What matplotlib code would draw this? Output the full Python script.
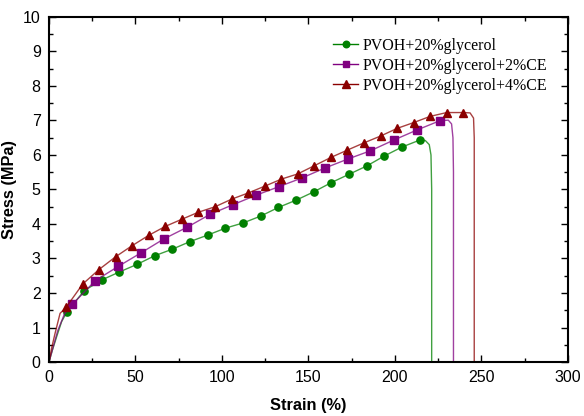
import numpy as np
import matplotlib
matplotlib.use('Agg')
import matplotlib.pyplot as plt
from matplotlib.lines import Line2D
from matplotlib.ticker import MultipleLocator

# marker points (strain %, stress MPa)
green_x = [10.2, 20.4, 30.6, 40.7, 50.9, 61.1, 71.3, 81.5, 91.8, 102.0, 112.2,
           122.4, 132.6, 142.8, 153.0, 163.2, 173.4, 183.6, 193.8, 204.0, 214.2]
green_y = [1.44, 2.07, 2.38, 2.61, 2.83, 3.08, 3.27, 3.49, 3.68, 3.88, 4.03,
           4.23, 4.48, 4.69, 4.93, 5.20, 5.44, 5.68, 5.97, 6.23, 6.43]

purple_x = [13.5, 26.8, 40.0, 53.4, 66.5, 80.0, 93.1, 106.4, 119.5, 132.8,
            146.0, 159.4, 172.6, 185.7, 199.2, 212.5, 225.8]
purple_y = [1.67, 2.36, 2.77, 3.17, 3.57, 3.91, 4.28, 4.56, 4.83, 5.08,
            5.33, 5.62, 5.88, 6.12, 6.43, 6.72, 6.99]

red_x = [9.8, 19.5, 28.9, 38.5, 48.0, 57.6, 67.2, 76.9, 86.3, 96.0, 105.6,
         115.2, 124.9, 134.3, 143.7, 153.4, 163.0, 172.4, 182.0, 191.7, 201.2,
         210.8, 220.4, 229.9, 239.5]
red_y = [1.58, 2.26, 2.68, 3.05, 3.37, 3.67, 3.93, 4.14, 4.34, 4.50, 4.72,
         4.90, 5.10, 5.30, 5.45, 5.69, 5.93, 6.14, 6.35, 6.55, 6.77,
         6.94, 7.12, 7.23, 7.23]

# start of curves (before first marker) and the failure drop at the end
green_head_x = [0, 2.0, 4.4, 7.3]
green_head_y = [0, 0.35, 0.73, 1.17]
green_tail_x = [217.5, 219.8, 220.8, 221.2, 221.2]
green_tail_y = [6.42, 6.30, 6.00, 5.00, 0]

purple_head_x = [0, 2.5, 5.0, 9.0]
purple_head_y = [0, 0.45, 0.90, 1.40]
purple_tail_x = [230.8, 232.7, 233.5, 233.8, 233.8]
purple_tail_y = [7.01, 6.90, 6.50, 5.50, 0]

red_head_x = [0, 1.5, 3.5, 6.4]
red_head_y = [0, 0.40, 0.83, 1.41]
red_tail_x = [243.4, 245.4, 245.8, 245.8]
red_tail_y = [7.22, 7.07, 6.50, 0]

labels = ['PVOH+20%glycerol', 'PVOH+20%glycerol+2%CE', 'PVOH+20%glycerol+4%CE']

fig = plt.figure(figsize=(5.84, 4.16), dpi=100)
ax = fig.add_axes([0.0839, 0.1298, 0.8887, 0.8294])

series = [
    (green_head_x + green_x + green_tail_x, green_head_y + green_y + green_tail_y,
     green_x, green_y, '#008000', 'o', 5.2),
    (purple_head_x + purple_x + purple_tail_x, purple_head_y + purple_y + purple_tail_y,
     purple_x, purple_y, '#800080', 's', 5.5),
    (red_head_x + red_x + red_tail_x, red_head_y + red_y + red_tail_y,
     red_x, red_y, '#8b0000', '^', 6),
]

handles = []
for lx, ly, mx, my, col, mk, ms in series:
    ax.plot(lx, ly, color=col, lw=1.0, alpha=0.75)
    ax.plot(mx, my, linestyle='none', marker=mk, ms=ms, color=col, mec=col)
    handles.append(Line2D([], [], color=col, lw=1.0, marker=mk, ms=ms - 0.5))

ax.set_xlim(0, 300)
ax.set_ylim(0, 10)
ax.xaxis.set_major_locator(MultipleLocator(50))
ax.xaxis.set_minor_locator(MultipleLocator(25))
ax.yaxis.set_major_locator(MultipleLocator(1))
ax.yaxis.set_minor_locator(MultipleLocator(0.5))
ax.tick_params(which='both', direction='in', top=True, right=True, width=1)
ax.tick_params(which='major', length=5, labelsize=11.5, pad=6)
ax.tick_params(which='minor', length=3)
for lab in ax.get_xticklabels() + ax.get_yticklabels():
    lab.set_family('Liberation Sans')
for sp in ax.spines.values():
    sp.set_linewidth(1.5)

ax.set_xlabel('Strain (%)', fontsize=11.8, fontweight='bold', family='Liberation Sans', labelpad=9)
ax.set_ylabel('Stress (MPa)', fontsize=11.8, fontweight='bold', family='Liberation Sans', labelpad=4)

ax.legend(handles, labels, loc='upper left', bbox_to_anchor=(0.547, 0.94),
          frameon=False, borderpad=0, borderaxespad=0, handlelength=1.6,
          handletextpad=0.25, labelspacing=0.25,
          prop={'family': 'Liberation Serif', 'size': 11.5})

fig.savefig('out.png', dpi=100)
